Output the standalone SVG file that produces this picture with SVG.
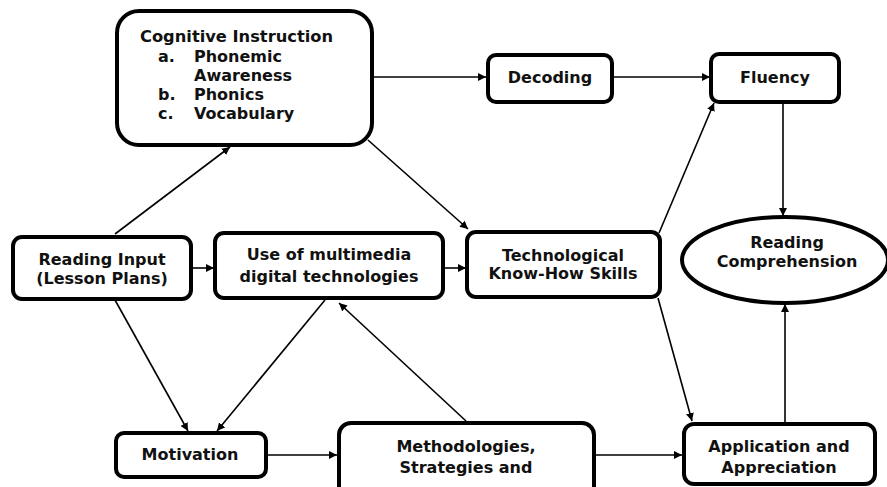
<svg xmlns="http://www.w3.org/2000/svg" width="887" height="487" viewBox="0 0 887 487">
<defs>
<style>
.box{fill:#fff;stroke:#000;stroke-width:4}
.t{font-family:"DejaVu Sans",Verdana,sans-serif;font-weight:bold;font-size:16px;fill:#111;text-anchor:middle}
.l{text-anchor:start}
.c{stroke:#000;stroke-width:1.6;fill:none;marker-end:url(#ah)}
</style>
<marker id="ah" viewBox="0 0 10 10" refX="10" refY="5" markerWidth="8" markerHeight="8" markerUnits="userSpaceOnUse" orient="auto">
<path d="M0,0 L10,5 L0,10 z" fill="#000"/>
</marker>
<clipPath id="clipApp"><rect x="683" y="423" width="192" height="53"/></clipPath>
</defs>
<rect width="887" height="487" fill="#fff"/>
<g id="connectors">
<line class="c" x1="115" y1="234" x2="230" y2="147"/>
<line class="c" x1="372" y1="77" x2="486" y2="77"/>
<line class="c" x1="612" y1="77" x2="710" y2="77"/>
<line class="c" x1="368" y1="140" x2="468" y2="229"/>
<line class="c" x1="191" y1="268" x2="214" y2="268"/>
<line class="c" x1="443" y1="268" x2="466" y2="268"/>
<line class="c" x1="659" y1="233" x2="714" y2="103"/>
<line class="c" x1="783" y1="102" x2="783" y2="216"/>
<line class="c" x1="115" y1="300" x2="188" y2="431"/>
<line class="c" x1="325" y1="300" x2="217" y2="431"/>
<line class="c" x1="466" y1="421" x2="339" y2="303"/>
<line class="c" x1="266" y1="455" x2="337" y2="455"/>
<line class="c" x1="594" y1="455" x2="682" y2="455"/>
<line class="c" x1="658" y1="298" x2="692" y2="421"/>
<line class="c" x1="785" y1="423" x2="785" y2="304"/>
</g>
<g id="cognitive">
<rect class="box" x="117" y="11" width="255" height="134" rx="22"/>
<text class="t l" x="140" y="42" textLength="193" lengthAdjust="spacingAndGlyphs">Cognitive Instruction</text>
<text class="t l" x="158" y="62">a.</text>
<text class="t l" x="194" y="62">Phonemic</text>
<text class="t l" x="194" y="81">Awareness</text>
<text class="t l" x="158" y="100">b.</text>
<text class="t l" x="194" y="100">Phonics</text>
<text class="t l" x="158" y="119">c.</text>
<text class="t l" x="194" y="119">Vocabulary</text>
</g>
<g id="decoding">
<rect class="box" x="488" y="55" width="124" height="47" rx="8"/>
<text class="t" x="550" y="83">Decoding</text>
</g>
<g id="fluency">
<rect class="box" x="711" y="54" width="128" height="48" rx="8"/>
<text class="t" x="775" y="83">Fluency</text>
</g>
<g id="reading-input">
<rect class="box" x="13" y="237" width="178" height="62" rx="9"/>
<text class="t" x="102" y="265">Reading Input</text>
<text class="t" x="102" y="284">(Lesson Plans)</text>
</g>
<g id="multimedia">
<rect class="box" x="215" y="233" width="228" height="65" rx="9"/>
<text class="t" x="329" y="260">Use of multimedia</text>
<text class="t" x="329" y="282">digital technologies</text>
</g>
<g id="technological">
<rect class="box" x="467" y="232" width="193" height="65" rx="9"/>
<text class="t" x="563" y="261">Technological</text>
<text class="t" x="563" y="279">Know-How Skills</text>
</g>
<g id="reading-comprehension">
<ellipse class="box" cx="785" cy="260" rx="103" ry="43"/>
<text class="t" x="787" y="248">Reading</text>
<text class="t" x="787" y="267">Comprehension</text>
</g>
<g id="motivation">
<rect class="box" x="116" y="433" width="150" height="44" rx="8"/>
<text class="t" x="190" y="460">Motivation</text>
</g>
<g id="methodologies">
<rect class="box" x="339" y="423" width="255" height="80" rx="12"/>
<text class="t" x="466" y="452">Methodologies,</text>
<text class="t" x="466" y="473">Strategies and</text>
</g>
<g id="application">
<rect class="box" x="684" y="424" width="191" height="60" rx="10"/>
<text class="t" x="779" y="452" clip-path="url(#clipApp)">Application and</text>
<text class="t" x="779" y="473" clip-path="url(#clipApp)">Appreciation</text>
</g>
</svg>
